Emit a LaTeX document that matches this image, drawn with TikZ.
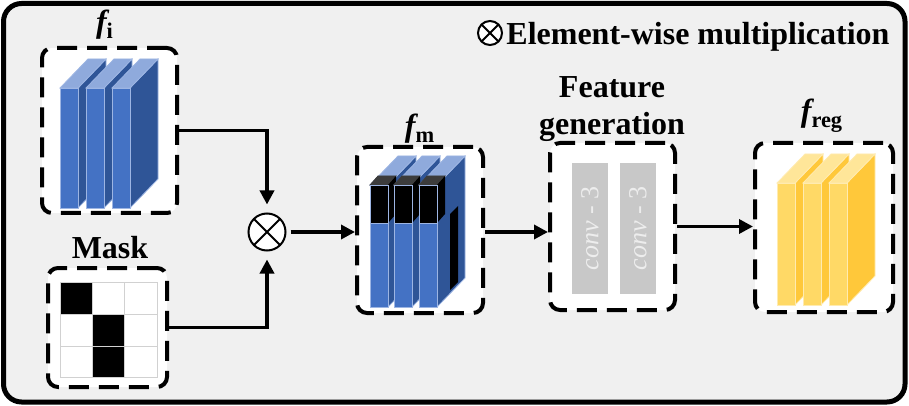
\documentclass[tikz,border=0pt]{standalone}
\usepackage{fontspec}
\setmainfont{Liberation Serif}
\usetikzlibrary{arrows.meta}

\definecolor{panel}{HTML}{F0F0F0}
\definecolor{blueF}{HTML}{4472C4}
\definecolor{blueS}{HTML}{2F5597}
\definecolor{blueT}{HTML}{8FAADC}
\definecolor{blueE}{HTML}{9DB5E3}
\definecolor{yelF}{HTML}{FFD966}
\definecolor{yelS}{HTML}{FFC83A}
\definecolor{yelT}{HTML}{FFE699}
\definecolor{yelE}{HTML}{FFEBB0}
\definecolor{capT}{HTML}{3C3C3C}
\definecolor{barG}{HTML}{C8C8C8}
\definecolor{barT}{HTML}{EDEDED}

% one feature slab: front face at x=#1 from y=#2 to y=#3, colour set #4
\def\slab(#1,#2,#3)[#4]{
	\draw[#4E, fill=#4S] (#1+18,#2) -- (#1+46,#2-29) -- (#1+46,#3-29) -- (#1+18,#3) -- cycle;
	\draw[#4E, fill=#4T] (#1,#2) -- (#1+28,#2-29) -- (#1+46,#2-29) -- (#1+18,#2) -- cycle;
	\draw[#4E, fill=#4F] (#1,#2) rectangle (#1+18,#3);
}
% masked (black) cap on the front of a slab
\def\maskcap(#1,#2,#3){
	\draw[capT, fill=capT] (#1,#2) -- (#1+8,#2-9) -- (#1+26,#2-9) -- (#1+18,#2) -- cycle;
	\fill[black] (#1+18,#2) -- (#1+26,#2-9) -- (#1+26,#3-9) -- (#1+18,#3) -- cycle;
	\draw[blueE, fill=black] (#1,#2) rectangle (#1+18,#3);
}

\begin{document}
\begin{tikzpicture}[x=0.5pt, y=-0.5pt,
	dashbox/.style={draw, fill=white, line width=2pt, dash pattern=on 10pt off 5pt, rounded corners=5pt, inner sep=0pt},
	lbl/.style={font=\fontsize{16}{19}\selectfont\bfseries, inner sep=0pt},
	flow/.style={line width=1.7pt, -{Triangle[length=7pt, width=7pt]}},
	mulsym/.style={circle, draw, fill=white, line width=1pt, inner sep=0pt,
		path picture={\draw[line width=1pt] (path picture bounding box.north west) -- (path picture bounding box.south east)
			(path picture bounding box.north east) -- (path picture bounding box.south west);}},
	convbar/.style={fill=barG, text=barT, rotate=90, minimum width=65.5pt, minimum height=18pt, inner sep=0pt,
		font=\fontsize{13}{15}\selectfont}]
	%%%%% START %%%%%
	
	\useasboundingbox (0,0) rectangle (909,406);
	\draw[line width=2.5pt, rounded corners=9pt, fill=panel] (3.5,3.5) rectangle (905,402);
	
	% legend
	\node[mulsym, minimum size=12pt] (key) at (490,33) {};
	\node[lbl, anchor=base west] (key-lbl) at (506,45) {Element-wise multiplication};
	
	% boxes
	\node[dashbox, minimum width=67.5pt, minimum height=82.5pt] (fi) at (109.5,130.5) {};
	\node[dashbox, minimum width=59.5pt, minimum height=59.5pt] (mask) at (107.5,327.5) {};
	\node[dashbox, minimum width=63pt, minimum height=83pt] (fm) at (420,230) {};
	\node[dashbox, minimum width=62.5pt, minimum height=83.5pt] (gen) at (612.5,226.5) {};
	\node[dashbox, minimum width=69pt, minimum height=84.5pt] (reg) at (824,227.5) {};
	
	\node[lbl, anchor=base] (fi-lbl) at (105,33) {\itshape f\upshape\textsubscript{i}};
	\node[lbl, anchor=base] (mask-lbl) at (110,258) {Mask};
	\node[lbl, anchor=base] (fm-lbl) at (420,137) {\itshape f\upshape\textsubscript{m}};
	\node[lbl, anchor=base] (gen-lbl) at (612,98) {Feature};
	\node[lbl, anchor=base] (gen-lbl2) at (612,135) {generation};
	\node[lbl, anchor=base] (reg-lbl) at (822,122) {\itshape f\upshape\textsubscript{reg}};
	
	% input features
	\slab(60,88,208)[blue]
	\slab(86,88,208)[blue]
	\slab(112,88,208)[blue]
	
	% mask
	\fill[black] (60,282) rectangle (92.3,314.3);
	\fill[black] (92.3,314.3) rectangle (124.7,377);
	\draw[black!18, line width=0.5pt] (60,282) rectangle (157,377);
	\draw[black!18, line width=0.5pt] (92.3,282) -- (92.3,377);
	\draw[black!18, line width=0.5pt] (124.7,282) -- (124.7,377);
	\draw[black!18, line width=0.5pt] (60,314.3) -- (157,314.3);
	\draw[black!18, line width=0.5pt] (60,346.7) -- (157,346.7);
	
	% masked features
	\slab(370,185,307)[blue]
	\maskcap(370,185,223)
	\slab(394,185,307)[blue]
	\maskcap(394,185,223)
	\slab(419,185,307)[blue]
	\maskcap(419,185,223)
	\fill[black] (450,214) -- (458,206) -- (458,282) -- (450,290) -- cycle;
	
	% feature generation
	\node[convbar] (conv1) at (590,228.5) {\textit{conv} - 3};
	\node[convbar] (conv2) at (638,228.5) {\textit{conv} - 3};
	
	% regenerated features
	\slab(777,183,305)[yel]
	\slab(803,183,305)[yel]
	\slab(829,183,305)[yel]
	
	% multiplication
	\node[mulsym, minimum size=18.5pt] (mul) at (267,232) {};
	
	\draw[flow, shorten >=4pt] (fi.east) -| (mul.north);
	\draw[flow, shorten >=4pt] (mask.east) -| (mul.south);
	\draw[flow, shorten <=2pt] (mul.east) -- (mul.east -| fm.west);
	\draw[flow] (mul.east -| fm.east) -- (mul.east -| gen.west);
	\draw[flow] (gen.east) -- (gen.east -| reg.west);
	
	%%%%% END %%%%%
\end{tikzpicture}
\end{document}
